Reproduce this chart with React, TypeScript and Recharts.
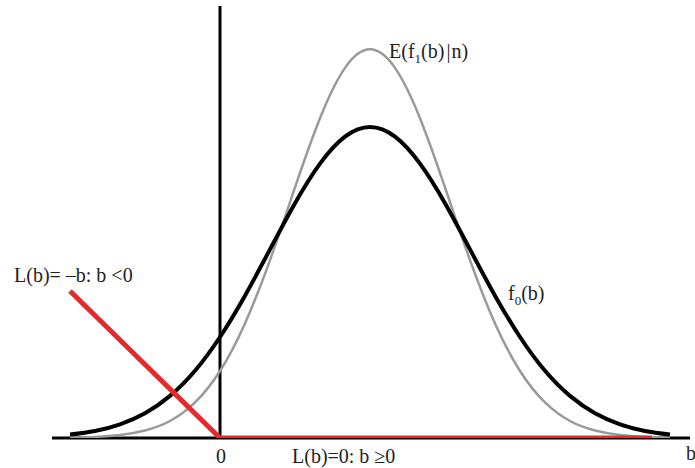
import { LineChart, Line, XAxis, YAxis, ReferenceLine } from "recharts";

// b grid (0 at the vertical line, peak at b = 3)
const bValues = [-3, -2.5, -2, -1.5, -1, -0.5, 0, 0.5, 1, 1.5, 2, 2.5, 3, 3.5, 4, 4.5, 5, 5.5, 6, 6.5, 7, 7.5, 8, 8.5, 9];
// f0(b), black curve
const f0Values = [0.0022, 0.0045, 0.0088, 0.0159, 0.027, 0.0431, 0.0648, 0.0913, 0.121, 0.1506, 0.176, 0.1933, 0.1995, 0.1933, 0.176, 0.1506, 0.121, 0.0913, 0.0648, 0.0431, 0.027, 0.0159, 0.0088, 0.0045, 0.0022];
// E(f1(b)|n), grey curve
const f1Values = [0.0002, 0.0007, 0.0019, 0.0048, 0.0109, 0.0228, 0.043, 0.0735, 0.1141, 0.1607, 0.2051, 0.2374, 0.2493, 0.2374, 0.2051, 0.1607, 0.1141, 0.0735, 0.043, 0.0228, 0.0109, 0.0048, 0.0019, 0.0007, 0.0002];
// loss function L(b)
const lossB = [-3, 0, 8.64];
const lossValues = [3, 0, 0];

const curves = bValues.map((b, i) => ({ b, f0: f0Values[i], f1: f1Values[i] }));
const loss = lossB.map((b, i) => ({ b, loss: lossValues[i] }));

const font = "'Liberation Serif', 'DejaVu Serif', serif";

export default function App() {
  return (
    <div style={{ position: "absolute", left: 0, top: 0, width: 695, height: 468, background: "#fff" }}>
      <LineChart width={695} height={468} data={curves} margin={{ top: 6, right: 5, bottom: 30, left: 52 }}>
        <XAxis dataKey="b" type="number" domain={[-3.36, 9.4]} hide allowDataOverflow />
        <YAxis yAxisId="f" type="number" domain={[0, 0.2771]} hide allowDataOverflow />
        <YAxis yAxisId="loss" type="number" domain={[0, 8.816]} hide allowDataOverflow />
        <ReferenceLine yAxisId="f" y={0} stroke="#000" strokeWidth={3} />
        <ReferenceLine yAxisId="f" x={0} stroke="#000" strokeWidth={3} />
        <Line yAxisId="f" dataKey="f1" type="natural" stroke="#9a9a9a" strokeWidth={2.5} dot={false} isAnimationActive={false} />
        <Line yAxisId="f" dataKey="f0" type="natural" stroke="#000" strokeWidth={4} dot={false} isAnimationActive={false} />
        <Line yAxisId="loss" data={loss} dataKey="loss" type="linear" stroke="#e32b2b" strokeWidth={5} dot={false} isAnimationActive={false} />
      </LineChart>
      <svg width={695} height={468} style={{ position: "absolute", left: 0, top: 0, pointerEvents: "none" }}>
        <g fontFamily={font} fontSize={20} fill="#222">
          <text x={389} y={58}>
            E(f<tspan fontSize={13} dy={5}>1</tspan>
            <tspan dy={-5}>(b)</tspan>
            <tspan dx={2}>|</tspan>
            <tspan dx={1}>n)</tspan>
          </text>
          <text x={508} y={300}>
            f<tspan fontSize={13} dy={5}>0</tspan>
            <tspan dy={-5}>(b)</tspan>
          </text>
          <text x={14} y={282}>L(b)= –b: b &lt;0</text>
          <text x={221} y={463} textAnchor="middle">0</text>
          <text x={292} y={463}>L(b)=0: b ≥0</text>
          <text x={686} y={460}>b</text>
        </g>
      </svg>
    </div>
  );
}
